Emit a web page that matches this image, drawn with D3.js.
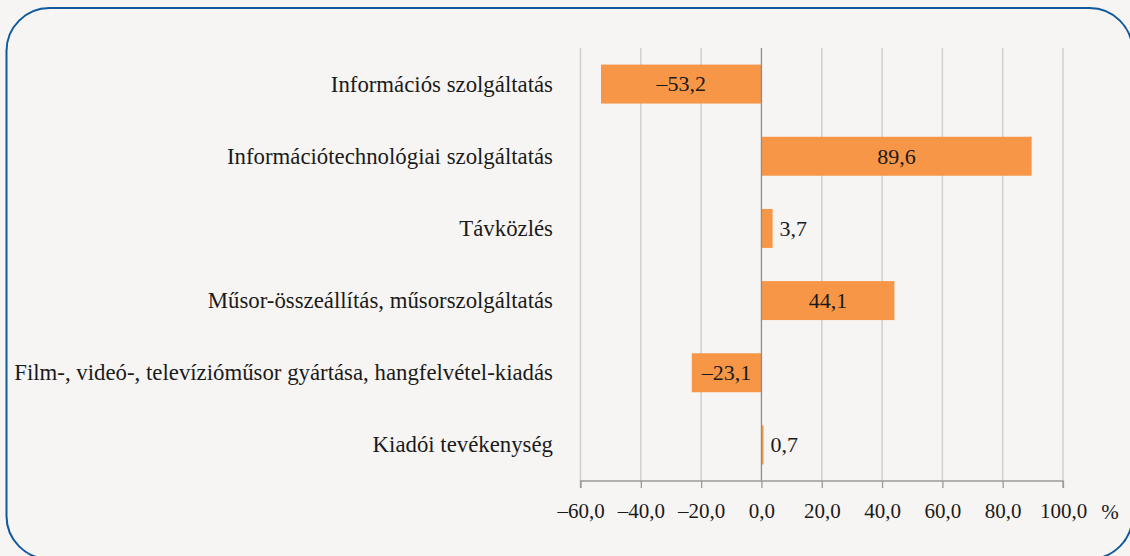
<!DOCTYPE html>
<html lang="hu">
<head>
<meta charset="UTF-8">
<title>Információ, kommunikáció</title>
<script src="https://cdnjs.cloudflare.com/ajax/libs/d3/7.8.5/d3.min.js"></script>
<style>
  body { margin: 0; background: #f6f5f3; }
</style>
</head>
<body>
<svg id="chart" width="1130" height="556"></svg>
<script>
// data
var categories = [
  "Információs szolgáltatás",
  "Információtechnológiai szolgáltatás",
  "Távközlés",
  "Műsor-összeállítás, műsorszolgáltatás",
  "Film-, videó-, televízióműsor gyártása, hangfelvétel-kiadás",
  "Kiadói tevékenység"
];
var values = [-53.2, 89.6, 3.7, 44.1, -23.1, 0.7];
var ticks = [-60, -40, -20, 0, 20, 40, 60, 80, 100];

var FONT = "'Liberation Serif'";
var svg = d3.select("#chart");
var fmt = function(v) {
  return (v < 0 ? "\u2013" : "") + Math.abs(v).toFixed(1).replace(".", ",");
};

// rounded frame
svg.append("rect")
  .attr("x", 6.5).attr("y", 8)
  .attr("width", 1126).attr("height", 551)
  .attr("rx", 43).attr("ry", 43)
  .attr("fill", "#f6f5f3")
  .attr("stroke", "#11599e")
  .attr("stroke-width", 2);

var x = d3.scaleLinear().domain([-60, 100]).range([580.5, 1063]);
var y = d3.scaleBand().domain(categories).range([48, 481]).paddingInner(0.46).paddingOuter(0.23);

// grid
svg.append("g").selectAll("line")
  .data(ticks.filter(function(t) { return t !== 0; }))
  .join("line")
  .attr("x1", function(d) { return x(d); }).attr("x2", function(d) { return x(d); })
  .attr("y1", 48).attr("y2", 481)
  .attr("stroke", "#cfcfcd").attr("stroke-width", 1.5);

// bars
svg.append("g").selectAll("rect")
  .data(values)
  .join("rect")
  .attr("x", function(d) { return x(Math.min(0, d)); })
  .attr("y", function(d, i) { return y(categories[i]); })
  .attr("width", function(d) { return Math.abs(x(d) - x(0)); })
  .attr("height", y.bandwidth())
  .attr("fill", "#f79646");

// zero line
svg.append("line")
  .attr("x1", x(0)).attr("x2", x(0))
  .attr("y1", 48).attr("y2", 481)
  .attr("stroke", "#8c8c8c").attr("stroke-width", 1.3);

// x axis
var xAxis = svg.append("g")
  .attr("transform", "translate(0,481)")
  .call(d3.axisBottom(x).tickValues(ticks).tickSize(7).tickPadding(15).tickFormat(fmt));
xAxis.select(".domain").attr("stroke", "#9a9a9a").attr("stroke-width", 1.3).attr("d", "M" + x(-60) + ",7V0H" + x(100) + "V7");
xAxis.selectAll(".tick line").attr("stroke", "#9a9a9a").attr("stroke-width", 1.3);
xAxis.selectAll(".tick text")
  .style("font-family", FONT).style("font-size", "21px")
  .attr("fill", "#1a1a1a");

svg.append("text")
  .attr("x", 1110).attr("y", 519)
  .attr("text-anchor", "middle")
  .style("font-family", FONT).style("font-size", "21px")
  .attr("fill", "#1a1a1a")
  .text("%");

// category labels
svg.append("g").selectAll("text")
  .data(categories)
  .join("text")
  .attr("x", 553)
  .attr("y", function(d) { return y(d) + y.bandwidth() / 2; })
  .attr("dy", "0.33em")
  .attr("text-anchor", "end")
  .style("font-family", FONT).style("font-size", "22.8px")
  .attr("fill", "#1a1a1a")
  .text(function(d) { return d; });

// value labels
svg.append("g").selectAll("text")
  .data(values)
  .join("text")
  .attr("x", function(d) {
    return Math.abs(d) < 10 ? x(Math.max(0, d)) + 7 : (x(d) + x(0)) / 2;
  })
  .attr("y", function(d, i) { return y(categories[i]) + y.bandwidth() / 2; })
  .attr("dy", "0.33em")
  .attr("text-anchor", function(d) { return Math.abs(d) < 10 ? "start" : "middle"; })
  .style("font-family", FONT).style("font-size", "22px")
  .attr("fill", "#1a1a1a")
  .text(fmt);
</script>
</body>
</html>
